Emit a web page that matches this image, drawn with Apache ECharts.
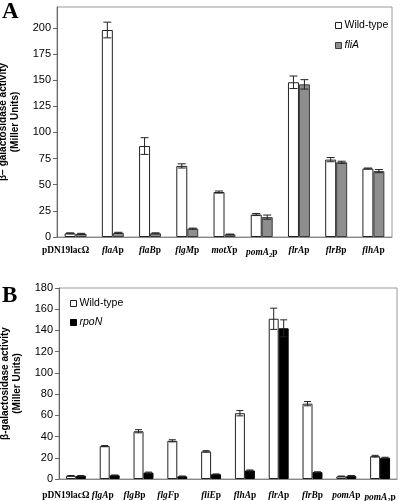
<!DOCTYPE html>
<html>
<head>
<meta charset="utf-8">
<script src="https://cdn.jsdelivr.net/npm/echarts@6/dist/echarts.min.js"></script>
<style>html,body{margin:0;padding:0;background:#fff}#c{width:400px;height:501px}</style>
</head>
<body>
<div id="c"></div>
<script>
// Panel A data
var categoriesA = ['pDN19lacΩ','flaAp','flaBp','flgMp','motXp','pomA2p','flrAp','flrBp','flhAp'];
var wildTypeA = [3.5, 198, 87, 68, 43, 21.5, 148, 74, 65.5];
var wildTypeErrA = [0.5, 7.5, 8, 2, 1, 1, 6, 2, 0.5];
var fliA = [3, 4, 3.5, 8, 2.5, 19, 146, 71.5, 63];
var fliAErr = [0.5, 0.5, 0.5, 0.5, 0.3, 2, 4.5, 1, 1.5];
var yTicksA = [0, 25, 50, 75, 100, 125, 150, 175, 200];

// Panel B data
var categoriesB = ['pDN19lacΩ','flgAp','flgBp','flgFp','fliEp','flhAp','flrAp','flrBp','pomAp','pomA2p'];
var wildTypeB = [3, 31, 45, 36, 26, 62, 151, 71, 2.5, 21.5];
var wildTypeErrB = [0.3, 0.5, 1.5, 1, 0.7, 2.5, 10, 2, 0.3, 0.8];
var rpoN = [3, 3.5, 6, 2.5, 4.5, 8, 142, 6.5, 3, 20];
var rpoNErr = [0.3, 0.3, 0.5, 0.3, 0.3, 0.5, 8, 0.3, 0.3, 0.5];
var yTicksB = [0, 20, 40, 60, 80, 100, 120, 140, 160, 180];

var CAT_GAP = 0.41;
var LABEL_FS = 9.4;

// label nudges (px to the left), layout only
var nudgeA = {'pDN19lacΩ': 10};
var nudgeB = {'pDN19lacΩ': 10, 'flgAp': 7, 'flgBp': 9, 'flgFp': 9};

var richX = {
  b: {fontFamily: 'Liberation Serif', fontWeight: 'bold', fontSize: LABEL_FS, color: '#000'},
  i: {fontFamily: 'Liberation Serif', fontWeight: 'bold', fontStyle: 'italic', fontSize: LABEL_FS, color: '#000'},
  s: {fontFamily: 'Liberation Serif', fontWeight: 'bold', fontStyle: 'italic', fontSize: 6.5, color: '#000', padding: [6, 0, 0, 0]}
};
[14, 18, 20].forEach(function (n) {
  richX['b' + n] = {fontFamily: 'Liberation Serif', fontWeight: 'bold', fontSize: LABEL_FS, color: '#000', padding: [0, n, 0, 0]};
});

function makeLabel(nudge) {
  return function (s) {
    var n = nudge[s] ? nudge[s] * 2 : 0;
    var tail = n ? 'b' + n : 'b';
    if (s.indexOf('pDN') === 0) return '{' + tail + '|' + s + '}';
    if (s === 'pomA2p') return '{i|pomA}{s|2}{' + tail + '|p}';
    return '{i|' + s.slice(0, -1) + '}{' + tail + '|p}';
  };
}

function errSeries(idx, vals, errs, side, cap) {
  return {
    type: 'custom', xAxisIndex: idx, yAxisIndex: idx, z: 5, silent: true,
    data: vals.map(function (v, i) { return [i, v, errs[i]]; }),
    renderItem: function (params, api) {
      var i = api.value(0), v = api.value(1), e = api.value(2);
      var band = api.size([1, 0])[0];
      var bw = band * (1 - CAT_GAP) / 2;
      var c = api.coord([i, v]);
      var x = c[0] + side * bw / 2;
      var top = api.coord([i, v + e])[1];
      var bot = api.coord([i, v - e])[1];
      var st = {stroke: '#222', lineWidth: 1};
      return {type: 'group', children: [
        {type: 'line', shape: {x1: x, y1: top, x2: x, y2: bot}, style: st},
        {type: 'line', shape: {x1: x - cap, y1: top, x2: x + cap, y2: top}, style: st},
        {type: 'line', shape: {x1: x - cap, y1: bot, x2: x + cap, y2: bot}, style: st}
      ]};
    }
  };
}

var yTitleStyle = {fontFamily: 'Liberation Sans', fontWeight: 'bold', fontSize: 10, color: '#000', lineHeight: 12};
var tickFont = {fontFamily: 'Liberation Sans', fontSize: 11, color: '#000'};
var legendText = {fontFamily: 'Liberation Sans', fontSize: 10.5, color: '#000', padding: [0, 0, 0, -2],
  rich: {it: {fontFamily: 'Liberation Sans', fontSize: 10.5, fontStyle: 'italic', color: '#000'}}};
function legendFmt(n) { return n === 'Wild-type' ? n : '{it|' + n + '}'; }

var chart = echarts.init(document.getElementById('c'), null, {renderer: 'canvas'});
chart.setOption({
  animation: false,
  backgroundColor: '#fff',
  graphic: [
    {type: 'text', left: 2, top: 1, style: {text: 'A', font: 'bold 23px "Liberation Serif"', fill: '#000'}},
    {type: 'text', left: 2, top: 285, style: {text: 'B', font: 'bold 23px "Liberation Serif"', fill: '#000'}}
  ],
  legend: [
    {data: ['Wild-type', 'fliA'], orient: 'vertical', left: 330, top: 15, icon: 'rect', itemWidth: 6, itemHeight: 6, itemGap: 9,
     itemStyle: {borderWidth: 1}, textStyle: legendText, formatter: legendFmt},
    {data: ['Wild-type', 'rpoN'], orient: 'vertical', left: 65, top: 293, icon: 'rect', itemWidth: 6, itemHeight: 6, itemGap: 8,
     itemStyle: {borderWidth: 1}, textStyle: legendText, formatter: legendFmt}
  ],
  grid: [
    {left: 57, top: 7, width: 335, height: 230, show: true, borderColor: '#9a9a9a', borderWidth: 1,
     outerBoundsMode: 'none', containLabel: false},
    {left: 59, top: 288, width: 338, height: 191, show: true, borderColor: '#9a9a9a', borderWidth: 1,
     outerBoundsMode: 'none', containLabel: false}
  ],
  xAxis: [
    {type: 'category', gridIndex: 0, data: categoriesA,
     axisLine: {lineStyle: {color: '#888'}}, axisTick: {length: 5, lineStyle: {color: '#888'}},
     axisLabel: {margin: 9, interval: 0, formatter: makeLabel(nudgeA), rich: richX}},
    {type: 'category', gridIndex: 1, data: categoriesB,
     axisLine: {lineStyle: {color: '#888'}}, axisTick: {length: 5, lineStyle: {color: '#888'}},
     axisLabel: {margin: 12, interval: 0, formatter: makeLabel(nudgeB), rich: richX}}
  ],
  yAxis: [
    {type: 'value', gridIndex: 0, min: 0, max: 220, interval: 25,
     name: 'β− galactosidase activity\n(Miller Units)', nameLocation: 'middle', nameRotate: 90, nameGap: 30.5,
     nameTextStyle: yTitleStyle,
     axisLine: {show: true, lineStyle: {color: '#666'}}, axisTick: {show: true, length: 4, lineStyle: {color: '#666'}},
     splitLine: {show: false},
     axisLabel: Object.assign({margin: 6, showMaxLabel: false,
       formatter: function (v) { return yTicksA.indexOf(v) >= 0 ? String(v) : ''; }}, tickFont)},
    {type: 'value', gridIndex: 1, min: 0, max: 180, interval: 20,
     name: 'β-galactosidase activity\n(Miller Units)', nameLocation: 'middle', nameRotate: 90, nameGap: 32.5,
     nameTextStyle: yTitleStyle,
     axisLine: {show: true, lineStyle: {color: '#666'}}, axisTick: {show: true, length: 4, lineStyle: {color: '#666'}},
     splitLine: {show: false},
     axisLabel: Object.assign({margin: 6,
       formatter: function (v) { return yTicksB.indexOf(v) >= 0 ? String(v) : ''; }}, tickFont)}
  ],
  series: [
    {name: 'Wild-type', type: 'bar', xAxisIndex: 0, yAxisIndex: 0, data: wildTypeA, barGap: '0%', barCategoryGap: (CAT_GAP * 100) + '%',
     itemStyle: {color: '#fff', borderColor: '#222', borderWidth: 1}},
    {name: 'fliA', type: 'bar', xAxisIndex: 0, yAxisIndex: 0, data: fliA, barGap: '0%', barCategoryGap: (CAT_GAP * 100) + '%',
     itemStyle: {color: '#8e8e8e', borderColor: '#3a3a3a', borderWidth: 1}},
    {name: 'Wild-type', type: 'bar', xAxisIndex: 1, yAxisIndex: 1, data: wildTypeB, barGap: '0%', barCategoryGap: (CAT_GAP * 100) + '%',
     itemStyle: {color: '#fff', borderColor: '#222', borderWidth: 1}},
    {name: 'rpoN', type: 'bar', xAxisIndex: 1, yAxisIndex: 1, data: rpoN, barGap: '0%', barCategoryGap: (CAT_GAP * 100) + '%',
     itemStyle: {color: '#000', borderColor: '#000', borderWidth: 1}},
    errSeries(0, wildTypeA, wildTypeErrA, -1, 4),
    errSeries(0, fliA, fliAErr, 1, 4),
    errSeries(1, wildTypeB, wildTypeErrB, -1, 3.5),
    errSeries(1, rpoN, rpoNErr, 1, 3.5)
  ]
});
</script>
</body>
</html>
